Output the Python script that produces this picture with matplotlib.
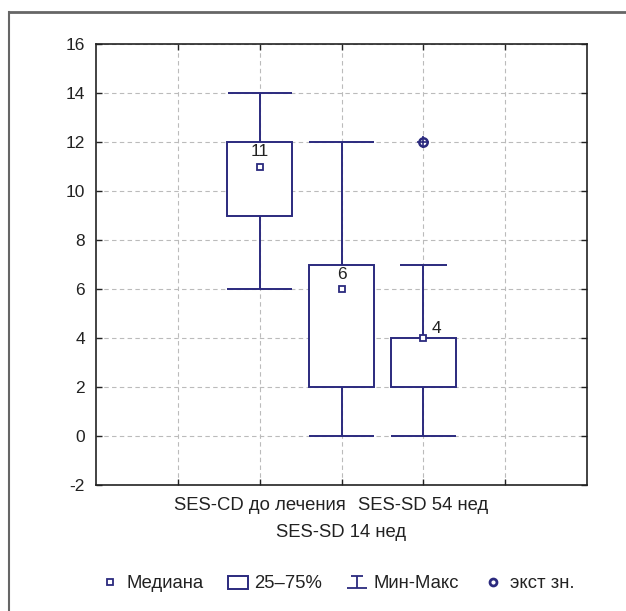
import matplotlib
matplotlib.use("Agg")
import matplotlib.pyplot as plt
from matplotlib.lines import Line2D
from matplotlib.patches import Rectangle, Patch
from matplotlib.path import Path

# ── Data ───────────────────────────────────────────────────────────────────────
groups   = ["SES-CD до лечения", "SES-SD 14 нед", "SES-SD 54 нед"]
pos      = [2, 3, 4]
w_min    = [6, 0, 0]
w_max    = [14, 12, 7]
q1       = [9, 2, 2]
q3       = [12, 7, 4]
medians  = [11, 6, 4]
outliers = [[], [], [12]]
cap_half = [0.39, 0.40, 0.29]

NAVY = "#2b2a7e"
TEXT = "#222222"

plt.rcParams.update({
    "font.family": ["Liberation Sans", "DejaVu Sans"],
    "font.size": 12.5,
    "text.color": TEXT,
    "xtick.color": TEXT,
    "ytick.color": TEXT,
    "axes.unicode_minus": False,
})

fig = plt.figure(figsize=(6.26, 6.11), dpi=100)
ax = fig.add_axes([96 / 626, 1 - 485 / 611, 491 / 626, 441 / 611])

bw = 0.4
for i, x in enumerate(pos):
    ax.vlines(x, w_min[i], q1[i], color=NAVY, lw=1.4, zorder=3)
    ax.vlines(x, q3[i], w_max[i], color=NAVY, lw=1.4, zorder=3)
    ax.hlines([w_min[i]], x - 0.4, x + 0.4, color=NAVY, lw=1.4, zorder=3)
    ax.hlines([w_max[i]], x - cap_half[i], x + cap_half[i], color=NAVY, lw=1.4, zorder=3)
    ax.add_patch(Rectangle((x - bw, q1[i]), 2 * bw, q3[i] - q1[i],
                           facecolor="white", edgecolor=NAVY, lw=1.4, zorder=2))
    ax.plot(x, medians[i], marker="s", ms=4.5, mfc="white", mec=NAVY, mew=1.3, zorder=4)
    if i < 2:
        ax.text(x, medians[i] + 0.6, str(medians[i]), ha="center", va="center",
                fontsize=12.5, zorder=5)
    else:
        ax.text(x + 0.1, medians[i] + 0.4, str(medians[i]), ha="left", va="center",
                fontsize=12.5, zorder=5)
    for o in outliers[i]:
        ax.plot(x, o, marker="o", ms=6, mfc="white", mec=NAVY, mew=1.8, zorder=4)
        ax.plot(x, o, marker="+", ms=9, color=NAVY, mew=1.2, zorder=4)

ax.set_xlim(0, 6)
ax.set_ylim(-2, 16)
ax.set_yticks(range(-2, 17, 2))
ax.xaxis.remove_overlapping_locs = False
ax.set_xticks([1, 2, 3, 4, 5])
ax.set_xticklabels(["", groups[0], "", groups[2], ""], fontsize=13.3)
# second row label for the middle group
ax.set_xticks([3], minor=True)
ax.set_xticklabels([groups[1]], minor=True, fontsize=13.3)
ax.tick_params(direction="in", length=4, top=True, right=True, width=1, pad=8)
ax.tick_params(axis="x", which="major", pad=9)
ax.tick_params(axis="x", which="minor", length=0, pad=28, top=False)
ax.grid(True, which="major", color="#bbbbbb", linestyle=(0, (4, 3)), lw=0.8)
ax.set_axisbelow(True)
for s in ax.spines.values():
    s.set_color("#222222")
    s.set_linewidth(1.2)

# ── Outer frame (top + left) ───────────────────────────────────────────────────
fig.add_artist(Line2D([9 / 626, 1], [1 - 12 / 611, 1 - 12 / 611],
                      transform=fig.transFigure, color="#666666", lw=2))
fig.add_artist(Line2D([9 / 626, 9 / 626], [0, 1 - 12 / 611],
                      transform=fig.transFigure, color="#666666", lw=1.5))

# ── Legend ─────────────────────────────────────────────────────────────────────
ibeam = Path([(-1, 1), (1, 1), (0, 1), (0, -1), (-1.6, -1), (1.6, -1)],
             [Path.MOVETO, Path.LINETO, Path.MOVETO, Path.LINETO, Path.MOVETO, Path.LINETO])
handles = [
    Line2D([], [], ls="none", marker="s", ms=5, mfc="white", mec=NAVY, mew=1.3),
    Patch(facecolor="white", edgecolor=NAVY, lw=1.4),
    Line2D([], [], ls="none", marker=ibeam, ms=14, color=NAVY, mew=1.3),
    Line2D([], [], ls="none", marker="o", ms=5, mfc="white", mec=NAVY, mew=2),
]
labels = ["Медиана", "25–75%", "Мин-Макс", "экст зн."]
fig.legend(handles, labels, loc="center", bbox_to_anchor=(337 / 626, 1 - 584 / 611),
           ncol=4, frameon=False, fontsize=13.3, handlelength=1.1, handletextpad=0.35,
           columnspacing=1.3)

fig.savefig("out.png", dpi=100, facecolor="white")
